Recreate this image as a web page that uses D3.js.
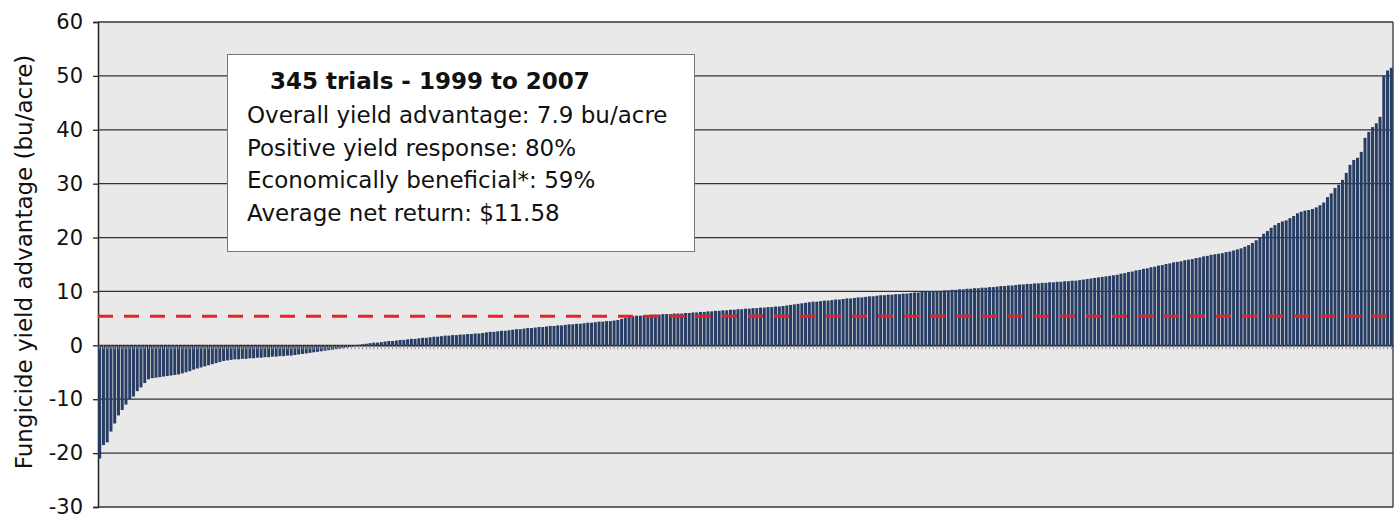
<!DOCTYPE html>
<html>
<head>
<meta charset="utf-8">
<script src="https://cdn.jsdelivr.net/npm/d3@7"></script>
<style>
  body { margin: 0; background: #fff; }
  text { font-family: "DejaVu Sans", Verdana, sans-serif; fill: #111; }
</style>
</head>
<body>
<svg id="chart"></svg>
<script>
// yield advantage per trial (bu/acre), sorted low to high
var yieldAdvantage = [
  -21, -18.5, -18, -16, -14.5, -13, -12, -11, -10, -9.5,
  -8.5, -7.8, -7, -6.3, -6.1, -6, -5.9, -5.8, -5.7, -5.6,
  -5.5, -5.4, -5.2, -5, -4.8, -4.5, -4.3, -4.1, -3.9, -3.7,
  -3.5, -3.3, -3.1, -2.9, -2.8, -2.7, -2.6, -2.6, -2.5, -2.5,
  -2.4, -2.4, -2.3, -2.3, -2.2, -2.2, -2.1, -2.1, -2, -2,
  -1.9, -1.9, -1.8, -1.7, -1.6, -1.5, -1.4, -1.3, -1.2, -1.1,
  -1, -0.9, -0.8, -0.7, -0.6, -0.5, -0.4, -0.3, -0.1,
  0.1, 0.2, 0.3, 0.4, 0.5, 0.5, 0.6, 0.7, 0.8, 0.8,
  0.9, 1.0, 1.0, 1.1, 1.2, 1.2, 1.3, 1.4, 1.4, 1.5,
  1.6, 1.6, 1.7, 1.8, 1.8, 1.9, 1.9, 2.0, 2.0, 2.1,
  2.1, 2.2, 2.2, 2.3, 2.4, 2.5, 2.5, 2.6, 2.7, 2.7,
  2.8, 2.9, 3.0, 3.0, 3.1, 3.2, 3.2, 3.3, 3.4, 3.4,
  3.5, 3.6, 3.6, 3.7, 3.7, 3.8, 3.9, 3.9, 4.0, 4.0,
  4.1, 4.2, 4.2, 4.3, 4.4, 4.4, 4.5, 4.5, 4.6, 4.7,
  4.9, 5.1, 5.3, 5.4, 5.5, 5.5, 5.6, 5.6, 5.7, 5.7,
  5.7, 5.8, 5.8, 5.8, 5.9, 5.9, 5.9, 6.0, 6.0, 6.1,
  6.1, 6.2, 6.2, 6.3, 6.3, 6.4, 6.4, 6.5, 6.5, 6.6,
  6.6, 6.7, 6.7, 6.8, 6.8, 6.9, 6.9, 7.0, 7.0, 7.1,
  7.1, 7.2, 7.2, 7.3, 7.4, 7.5, 7.6, 7.7, 7.8, 7.9,
  8.0, 8.1, 8.1, 8.2, 8.3, 8.3, 8.4, 8.5, 8.5, 8.6,
  8.7, 8.7, 8.8, 8.9, 8.9, 9.0, 9.1, 9.1, 9.2, 9.3,
  9.3, 9.4, 9.4, 9.5, 9.5, 9.6, 9.6, 9.7, 9.8, 9.8,
  9.9, 9.9, 10.0, 10.0, 10.1, 10.1, 10.2, 10.2, 10.3, 10.3,
  10.4, 10.4, 10.5, 10.5, 10.6, 10.6, 10.7, 10.7, 10.8, 10.8,
  10.9, 11.0, 11.0, 11.1, 11.1, 11.2, 11.3, 11.3, 11.4, 11.4,
  11.5, 11.5, 11.6, 11.6, 11.7, 11.7, 11.8, 11.8, 11.9, 11.9,
  12.0, 12.0, 12.1, 12.2, 12.3, 12.4, 12.5, 12.6, 12.7, 12.8,
  12.9, 13.0, 13.1, 13.3, 13.4, 13.6, 13.7, 13.9, 14.0, 14.2,
  14.3, 14.5, 14.6, 14.8, 14.9, 15.1, 15.2, 15.4, 15.5, 15.6,
  15.8, 15.9, 16.0, 16.2, 16.3, 16.5, 16.6, 16.8, 16.9, 17.0,
  17.1, 17.3, 17.4, 17.6, 17.8, 18.0, 18.3, 18.6, 19.0, 19.5,
  20.1, 20.7, 21.2, 21.8, 22.3, 22.7, 23.0, 23.2, 23.6, 24.0,
  24.5, 24.8, 25.0, 25.1, 25.3, 25.6, 26.0, 26.5, 27.5, 28.2,
  29.2, 29.8, 30.7, 32.0, 33.5, 34.4, 34.8, 35.9, 38.5, 39.6,
  40.5, 41.2, 42.4, 50.0, 51.0, 51.5
];

var yTicks = [60, 50, 40, 30, 20, 10, 0, -10, -20, -30];
var breakEven = 5.4;   // red dashed line
var yTitle = "Fungicide yield advantage (bu/acre)";
var boxTitle = "345 trials - 1999 to 2007";
var boxLines = [
  "Overall yield advantage: 7.9 bu/acre",
  "Positive yield response: 80%",
  "Economically beneficial*: 59%",
  "Average net return: $11.58"
];

var width = 1400, height = 521;
var margin = {top: 22, right: 7, bottom: 14, left: 98};

var svg = d3.select("#chart")
  .attr("width", width)
  .attr("height", height);

var x = d3.scaleBand()
  .domain(d3.range(yieldAdvantage.length))
  .range([margin.left, width - margin.right])
  .paddingInner(0.2)
  .paddingOuter(0.05);

var y = d3.scaleLinear()
  .domain([-30, 60])
  .range([height - margin.bottom, margin.top]);

// plot background
svg.append("rect")
  .attr("x", margin.left)
  .attr("y", margin.top)
  .attr("width", width - margin.left - margin.right)
  .attr("height", height - margin.top - margin.bottom)
  .attr("fill", "#e9e9e9");

// tick labels (plain hyphen for negatives, like the original)
var yAxis = d3.axisLeft(y)
  .tickValues(yTicks)
  .tickSize(5)
  .tickPadding(10)
  .tickFormat(function(d) { return String(d); });

var gy = svg.append("g")
  .attr("transform", "translate(" + margin.left + ",0)")
  .call(yAxis);
gy.select(".domain").attr("stroke", "#222").attr("stroke-width", 1.5);
gy.selectAll(".tick line").attr("stroke", "#222").attr("stroke-width", 1.3);
gy.selectAll(".tick text")
  .attr("font-size", 21)
  .attr("font-family", "'DejaVu Sans', Verdana, sans-serif")
  .attr("fill", "#111");

// gridlines
svg.append("g")
  .selectAll("line")
  .data(yTicks)
  .enter()
  .append("line")
  .attr("x1", margin.left)
  .attr("x2", width - margin.right)
  .attr("y1", function(d) { return y(d); })
  .attr("y2", function(d) { return y(d); })
  .attr("stroke", "#333")
  .attr("stroke-width", 1.3);

// right border
svg.append("line")
  .attr("x1", width - margin.right)
  .attr("x2", width - margin.right)
  .attr("y1", margin.top)
  .attr("y2", height - margin.bottom)
  .attr("stroke", "#333")
  .attr("stroke-width", 1.3);

// bars
svg.append("g")
  .selectAll("rect")
  .data(yieldAdvantage)
  .enter()
  .append("rect")
  .attr("x", function(d, i) { return x(i); })
  .attr("width", x.bandwidth())
  .attr("y", function(d) { return y(Math.max(0, d)); })
  .attr("height", function(d) { return Math.abs(y(d) - y(0)); })
  .attr("fill", "#283d63");

// category axis at zero with small ticks
var xAxis = d3.axisBottom(x)
  .tickSize(4)
  .tickSizeOuter(0)
  .tickFormat("");
var gx = svg.append("g")
  .attr("transform", "translate(0," + y(0) + ")")
  .call(xAxis);
gx.select(".domain").attr("stroke", "#222").attr("stroke-width", 1.3);
gx.selectAll(".tick line").attr("stroke", "#8a8f99").attr("stroke-width", 1);

// break-even line
svg.append("line")
  .attr("x1", margin.left)
  .attr("x2", width - margin.right)
  .attr("y1", y(breakEven))
  .attr("y2", y(breakEven))
  .attr("stroke", "#e8202a")
  .attr("stroke-width", 3)
  .attr("stroke-dasharray", "15,11");

// y axis title
svg.append("text")
  .attr("transform", "translate(32,262) rotate(-90)")
  .attr("text-anchor", "middle")
  .attr("font-size", 23)
  .text(yTitle);

// annotation box
var box = svg.append("g");
box.append("rect")
  .attr("x", 227.5)
  .attr("y", 54.5)
  .attr("width", 467)
  .attr("height", 197)
  .attr("fill", "#fff")
  .attr("stroke", "#777")
  .attr("stroke-width", 1);

box.append("text")
  .attr("x", 270)
  .attr("y", 89)
  .attr("font-size", 23)
  .attr("font-weight", "bold")
  .text(boxTitle);

box.selectAll("text.line")
  .data(boxLines)
  .enter()
  .append("text")
  .attr("class", "line")
  .attr("x", 247)
  .attr("y", function(d, i) { return 123 + i * 32.5; })
  .attr("font-size", 23)
  .text(function(d) { return d; });
</script>
</body>
</html>
